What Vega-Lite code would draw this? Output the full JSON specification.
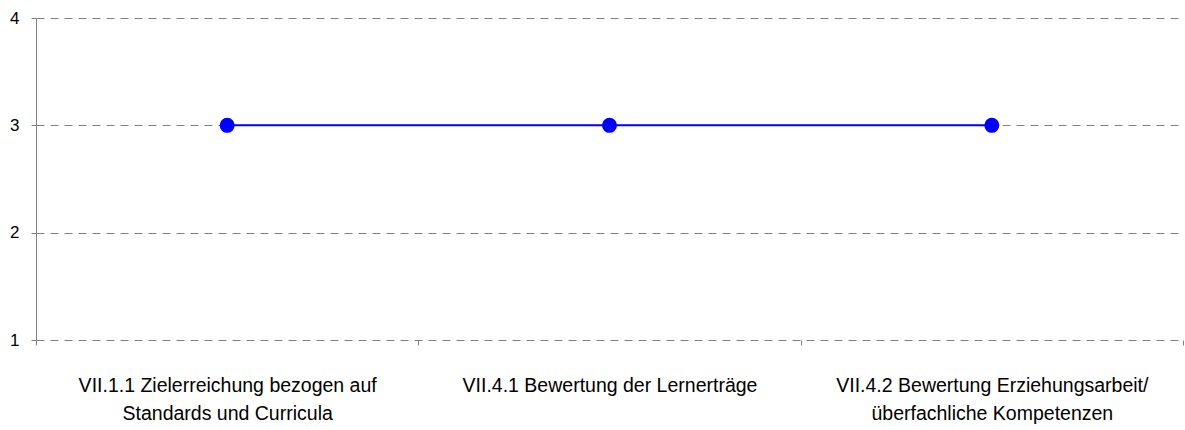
{
  "$schema": "https://vega.github.io/schema/vega-lite/v6.json",
  "width": 1147,
  "height": 322,
  "autosize": {"type": "none"},
  "padding": {"left": 36, "top": 18, "right": 2, "bottom": 90},
  "background": "white",
  "config": {
    "view": {"stroke": null},
    "font": "Liberation Sans"
  },
  "data": {
    "values": [
      {"kriterium": "VII.1.1 Zielerreichung bezogen auf|Standards und Curricula", "wert": 3},
      {"kriterium": "VII.4.1 Bewertung der Lernerträge", "wert": 3},
      {"kriterium": "VII.4.2 Bewertung Erziehungsarbeit/|überfachliche Kompetenzen", "wert": 3}
    ]
  },
  "encoding": {
    "x": {
      "field": "kriterium",
      "type": "nominal",
      "sort": null,
      "scale": {"paddingInner": 0, "paddingOuter": 0},
      "axis": {
        "title": null,
        "domain": false,
        "ticks": true,
        "tickBand": "extent",
        "tickSize": 5,
        "tickColor": "#808080",
        "labelAngle": 0,
        "labelExpr": "split(datum.label, '|')",
        "labelFontSize": 19.5,
        "labelLineHeight": 28,
        "labelColor": "#000000",
        "labelPadding": 31,
        "labelLimit": 0
      }
    },
    "y": {
      "field": "wert",
      "type": "quantitative",
      "scale": {"domain": [1, 4], "nice": false, "zero": false},
      "axis": {
        "title": null,
        "values": [1, 2, 3, 4],
        "format": "d",
        "domain": true,
        "domainColor": "#808080",
        "tickColor": "#808080",
        "tickSize": 5,
        "grid": true,
        "gridColor": "#808080",
        "gridDash": [8, 6],
        "labelFontSize": 17,
        "labelColor": "#000000",
        "labelPadding": 12
      }
    }
  },
  "layer": [
    {"mark": {"type": "line", "color": "#0000FF", "strokeWidth": 2}},
    {"mark": {"type": "point", "filled": true, "color": "#0000FF", "size": 225, "opacity": 1}}
  ]
}
